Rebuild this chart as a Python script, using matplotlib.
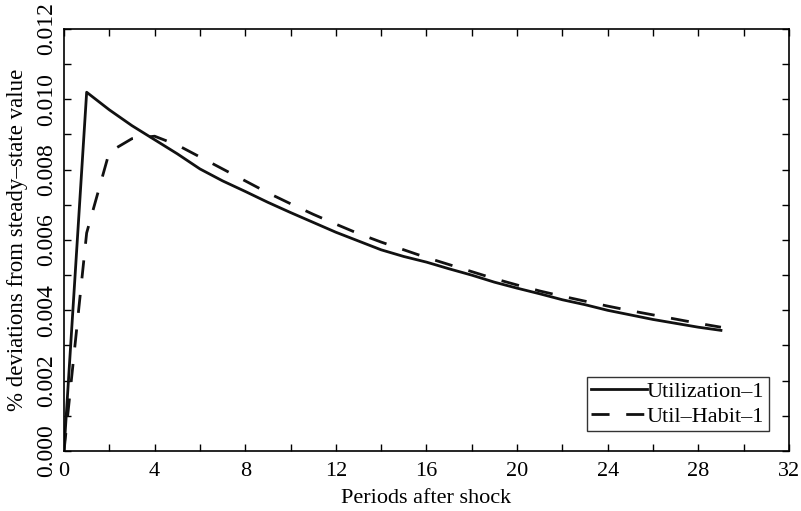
import numpy as np
import matplotlib
matplotlib.use('Agg')
import matplotlib.pyplot as plt
from matplotlib.ticker import MultipleLocator, FormatStrFormatter

# impulse responses
periods = list(range(30))
utilization = [0.0, 0.0102, 0.00970, 0.00925, 0.00885, 0.00845, 0.00802, 0.00768,
               0.00738, 0.00707, 0.00678, 0.00650, 0.00622, 0.00597, 0.00572, 0.00553,
               0.00537, 0.00518, 0.00500, 0.00480, 0.00463, 0.00447, 0.00430, 0.00416,
               0.00400, 0.00387, 0.00374, 0.00363, 0.00352, 0.00343]
util_habit = [0.0, 0.0062, 0.0085, 0.00888, 0.00895, 0.00870, 0.00836, 0.00802,
              0.00768, 0.00734, 0.00703, 0.00673, 0.00645, 0.00618, 0.00594, 0.00572,
              0.00550, 0.00530, 0.00510, 0.00490, 0.00472, 0.00455, 0.00440, 0.00426,
              0.00412, 0.00399, 0.00387, 0.00375, 0.00363, 0.00352]
labels = ['Utilization\u20131', 'Util\u2013Habit\u20131']

plt.rcParams['font.family'] = ['Liberation Serif', 'DejaVu Serif']
plt.rcParams['font.size'] = 16
plt.rcParams['lines.scale_dashes'] = False

fig = plt.figure(figsize=(8.01, 5.11), dpi=100)
ax = fig.add_axes([0.0799, 0.1174, 0.905, 0.826])

ax.plot(periods, utilization, color='#111111', lw=2.0, label=labels[0])
ax.plot(periods, util_habit, color='#111111', lw=2.0, dashes=(13, 12), label=labels[1])

ax.set_xlim(0, 32)
ax.set_ylim(0, 0.012)
ax.xaxis.set_major_locator(MultipleLocator(4))
ax.xaxis.set_minor_locator(MultipleLocator(2))
ax.yaxis.set_major_locator(MultipleLocator(0.002))
ax.yaxis.set_minor_locator(MultipleLocator(0.001))
ax.yaxis.set_major_formatter(FormatStrFormatter('%.3f'))
ax.tick_params(which='both', direction='in', top=True, right=True, width=1, length=5)
ax.tick_params(axis='x', pad=8)
ax.tick_params(axis='y', labelrotation=90, labelsize=17, pad=5)
for lab in ax.get_yticklabels():
    lab.set_va('center')

for s in ax.spines.values():
    s.set_linewidth(1.2)

ax.set_xlabel('Periods after shock', fontsize=16, labelpad=6)
ax.set_ylabel('% deviations from steady\u2013state value', fontsize=16.5, labelpad=6)

leg = ax.legend(loc='lower right', frameon=True, fancybox=False, edgecolor='black',
                handlelength=2.5, handletextpad=0.0, borderpad=0.2, labelspacing=0.2,
                borderaxespad=0.9, fontsize=16)
leg.get_frame().set_linewidth(1.0)

fig.savefig('out.png', dpi=100)
